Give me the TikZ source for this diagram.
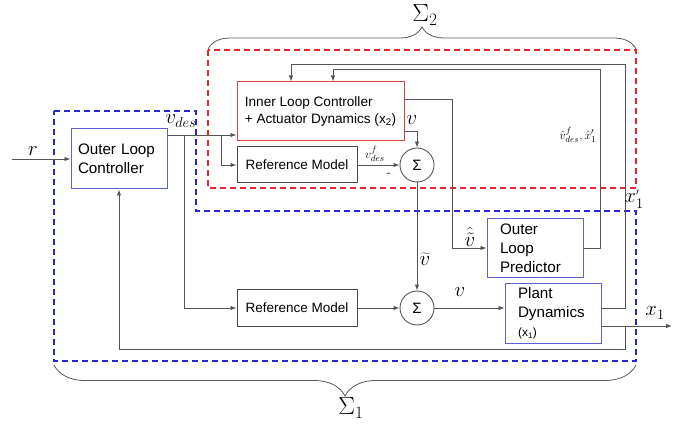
\documentclass[tikz,border=0pt]{standalone}
\usepackage{fontspec}
\setsansfont{Liberation Sans}
\usetikzlibrary{arrows.meta,decorations.pathreplacing,calc}
\definecolor{lc}{RGB}{85,85,85}
\definecolor{boxblue}{RGB}{95,95,215}
\definecolor{boxred}{RGB}{225,65,65}
\definecolor{dblue}{RGB}{40,40,210}
\definecolor{dred}{RGB}{235,35,45}
\definecolor{rmgray}{RGB}{70,70,70}
\begin{document}
\begin{tikzpicture}[x=1pt,y=-1pt,
  ln/.style={draw=lc, line width=0.9pt},
  arr/.style={ln, -{Latex[length=6pt,width=4.5pt]}},
  bx/.style={draw=#1, line width=1pt, fill=white, inner ysep=2pt},
  tx/.style={font=\sffamily\fontsize{13.5}{19}\selectfont},
  btx/.style={font=\sffamily\fontsize{15.2}{19}\selectfont},
  sumc/.style={circle, draw=lc, line width=0.9pt, fill=white, minimum size=34pt, inner sep=0pt, font=\sffamily\fontsize{15}{15}\selectfont},
  lab/.style={inner sep=0pt, font=\fontsize{20}{20}\selectfont},
  slab/.style={inner sep=0pt, font=\fontsize{13}{13}\selectfont},
  bigl/.style={inner sep=0pt, font=\fontsize{23}{23}\selectfont},
  dsh/.style={line width=1.8pt, dash pattern=on 6pt off 4pt},
  brc/.style={decorate, draw=gray!70!black, line width=0.8pt}
]
\useasboundingbox (0,0) rectangle (682,427);

% dashed regions
\draw[dsh, draw=dred] (208,50) rectangle (636,188);
\draw[dsh, draw=dblue] (54,111) -- (196,111) -- (196,211) -- (636,211) -- (636,361) -- (54,361) -- cycle;

% braces
\draw[brc, decoration={brace, amplitude=22pt}] (208,49) -- (636,49);
\draw[brc, decoration={brace, amplitude=31pt}] (636,365) -- (54,365);
\node[bigl] (s2) at (425,15) {$\Sigma_2$};
\node[bigl] (s1) at (351,408) {$\Sigma_1$};

% boxes
\node[bx=boxblue, btx, minimum width=96pt, minimum height=60pt, text width=82pt, inner xsep=7pt, align=left] (olc) at (119,159) {Outer Loop\\Controller};
\node[bx=boxred, font=\sffamily\fontsize{13.6}{17}\selectfont, minimum width=167pt, minimum height=59pt, align=left] (ilc) at (320.5,111.5) {Inner Loop Controller\\+ Actuator Dynamics (x\textsubscript{2})};
\node[bx=rmgray, tx, minimum width=120pt, minimum height=36pt] (rm1) at (297,165) {Reference Model};
\node[bx=rmgray, tx, minimum width=120pt, minimum height=36pt] (rm2) at (297,308) {Reference Model};
\node[bx=boxblue, btx, minimum width=96pt, minimum height=59pt, text width=70pt, inner xsep=13pt, align=left] (olp) at (535,248.5) {Outer\\Loop\\Predictor};
\node[bx=boxblue, btx, minimum width=96pt, minimum height=59pt, text width=70pt, inner xsep=13pt, align=left] (pd) at (553,313.5) {Plant\\Dynamics\\{\fontsize{12}{19}\selectfont(x\textsubscript{1})}};
\node[sumc] (sum1) at (417,165) {Σ};
\node[sumc] (sum2) at (417,308) {Σ};

% coordinates
\coordinate (rin) at (12,159);
\coordinate (b1) at (184,135);
\coordinate (b2) at (221,135);
\coordinate (ilo1) at (404,131);
\coordinate (ilo2) at (404,99);
\coordinate (k1) at (452,248);
\coordinate (t1) at (600,69);
\coordinate (t1a) at (333,69);
\coordinate (t2) at (625,64);
\coordinate (t2a) at (291,64);
\coordinate (po1) at (601,308);
\coordinate (po2) at (601,326);
\coordinate (fb) at (625,326);
\coordinate (xout) at (672,326);
\coordinate (fbl) at (119,349);

% connectors
\draw[arr] (rin) -- (olc);
\draw[arr] (olc.east|-b1) -- (ilc.west|-b1);
\draw[arr] (b2) |- (rm1);
\draw[arr] (b1) |- (rm2);
\draw[arr] (rm1) -- (sum1);
\draw[arr] (rm2) -- (sum2);
\draw[arr] (ilo1) -| (sum1.north);
\draw[arr] (ilo2) -| (k1) -- (k1 -| olp.west);
\draw[arr] (sum1) -- (sum2);
\draw[arr] (sum2) -- (sum2 -| pd.west);
\draw[arr] (olp.east) -| (t1) -- (t1a) -- (t1a |- ilc.north);
\draw[arr] (po1) -| (t2) -- (t2a) -- (t2a |- ilc.north);
\draw[arr] (po2) -- (xout);
\draw[arr] (fb) |- (fbl) -- (olc.south);

% labels
\node[lab] (lr) at (33,151) {$r$};
\node[lab] (lvdes) at (181,121) {$v_{des}$};
\node[lab] (lv1) at (412,120) {$v$};
\node[slab] (lvf) at (375,154) {$v^{f}_{des}$};
\node[slab] (lminus) at (389,175) {-};
\node[lab] (lvt) at (425,259) {$\widetilde{v}$};
\node[lab] (lvht) at (470,237) {$\hat{\tilde{v}}$};
\node[lab] (lv2) at (460,292) {$v$};
\node[lab] (lx1) at (655,313) {$x_1$};
\node[lab] (lx1p) at (634,199) {$x_1^{\scriptscriptstyle\prime}$};
\node[slab] (lhat) at (578,135) {$\hat{v}^{f}_{des},\hat{x}_1^{\prime}$};
\end{tikzpicture}
\end{document}
